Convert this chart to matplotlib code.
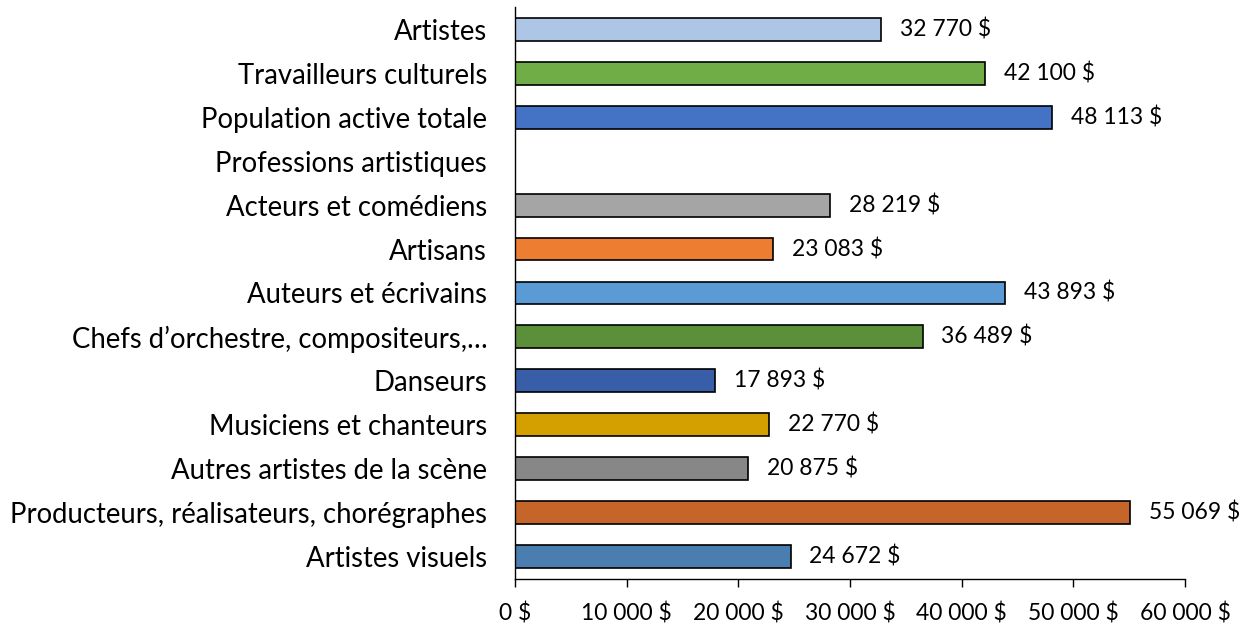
import matplotlib
matplotlib.use("Agg")
import matplotlib.pyplot as plt
from matplotlib.ticker import FuncFormatter

categories = [
    "Artistes visuels",
    "Producteurs, réalisateurs, chorégraphes",
    "Autres artistes de la scène",
    "Musiciens et chanteurs",
    "Danseurs",
    "Chefs d’orchestre, compositeurs,…",
    "Auteurs et écrivains",
    "Artisans",
    "Acteurs et comédiens",
    "Professions artistiques",
    "Population active totale",
    "Travailleurs culturels",
    "Artistes",
]
values = [24672, 55069, 20875, 22770, 17893, 36489, 43893, 23083, 28219, None, 48113, 42100, 32770]
colors = ["#4A7EB0", "#C5652A", "#878787", "#D4A000", "#375EA6", "#5B8F3A",
          "#5B9BD5", "#ED7D31", "#A5A5A5", "#FFFFFF", "#4472C4", "#70AD47", "#AEC6E6"]
xticks = [0, 10000, 20000, 30000, 40000, 50000, 60000]

plt.rcParams['font.family'] = ['Lato', 'DejaVu Sans']

def fmt(v):
    return f"{v:,.0f}".replace(",", " ") + " $"

fig = plt.figure(figsize=(12.41, 6.26), dpi=100)
ax = fig.add_axes([0.415, 0.075, 0.955 - 0.415, 0.989 - 0.075])

for i, (v, c) in enumerate(zip(values, colors)):
    if v is None:
        continue
    ax.barh(i, v, height=0.52, color=c, edgecolor="black", linewidth=1.2, zorder=2)
    ax.annotate(fmt(v), xy=(v, i), xytext=(13.5, 0), textcoords="offset points",
                va="center", ha="left", fontsize=16.5)

ax.set_yticks(range(len(categories)))
ax.set_yticklabels(categories, fontsize=19.8)
ax.tick_params(axis="y", length=0, pad=20)
ax.set_xlim(0, 60000)
ax.set_ylim(-0.52, 12.52)
ax.set_xticks(xticks)
ax.xaxis.set_major_formatter(FuncFormatter(lambda x, p: fmt(x)))
ax.tick_params(axis="x", length=6, width=1, direction="out", labelsize=16.5, pad=11)
for s in ["top", "right"]:
    ax.spines[s].set_visible(False)
ax.spines["left"].set_linewidth(1)
ax.spines["bottom"].set_linewidth(1)

fig.savefig("out.png", dpi=100)
